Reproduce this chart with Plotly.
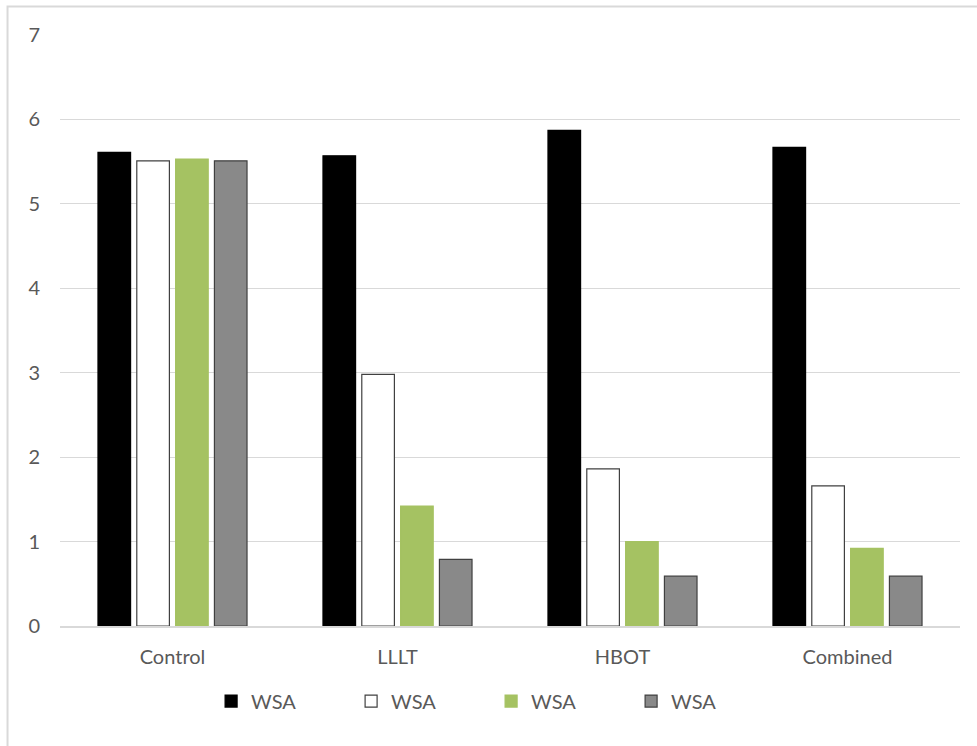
import plotly.graph_objects as go

categories = ["Control", "LLLT", "HBOT", "Combined"]
series_names = ["WSA", "WSA", "WSA", "WSA"]
series_1 = [5.61, 5.57, 5.87, 5.67]
series_2 = [5.51, 2.98, 1.86, 1.66]
series_3 = [5.53, 1.42, 1.00, 0.92]
series_4 = [5.51, 0.79, 0.59, 0.59]

fills = ["#000000", "#FFFFFF", "#A5C262", "#898989"]
outlines = ["#000000", "#404040", "#A5C262", "#404040"]

font_family = "Lato, 'Open Sans', sans-serif"
text_color = "#595959"
fsize = 20

fig = go.Figure()
for name, vals, fc, lc in zip(series_names, [series_1, series_2, series_3, series_4], fills, outlines):
    fig.add_trace(go.Bar(
        x=categories, y=vals, name=name,
        marker=dict(color=fc, line=dict(color=lc, width=1.2)),
    ))

fig.update_layout(
    width=977, height=746,
    margin=dict(l=60, r=17, t=35, b=120),
    paper_bgcolor="white", plot_bgcolor="white",
    barmode="group", bargap=0.31, bargroupgap=0.16,
    font=dict(family=font_family, size=fsize, color=text_color),
    showlegend=True,
    legend=dict(
        orientation="h", x=0.479, xanchor="center", y=-0.127, yanchor="middle",
        entrywidth=95, entrywidthmode="pixels", traceorder="normal",
        font=dict(family=font_family, size=fsize, color=text_color),
        itemclick=False,
    ),
    xaxis=dict(showgrid=False, showline=True, linecolor="#D9D9D9", linewidth=1.5,
               ticks="", ticklabelstandoff=12, tickfont=dict(size=fsize, color=text_color)),
    yaxis=dict(range=[0, 7], dtick=1, showgrid=True, gridcolor="#D9D9D9", gridwidth=1.2,
               zeroline=False, showline=False, ticks="", ticklabelstandoff=19,
               tickfont=dict(size=fsize, color=text_color)),
    shapes=[dict(type="rect", xref="paper", yref="paper",
                 x0=-0.0583, x1=1.05, y0=-0.35, y1=1.0482,
                 line=dict(color="#D9D9D9", width=2), fillcolor="rgba(0,0,0,0)", layer="below")],
)

fig.write_html("out.html")
